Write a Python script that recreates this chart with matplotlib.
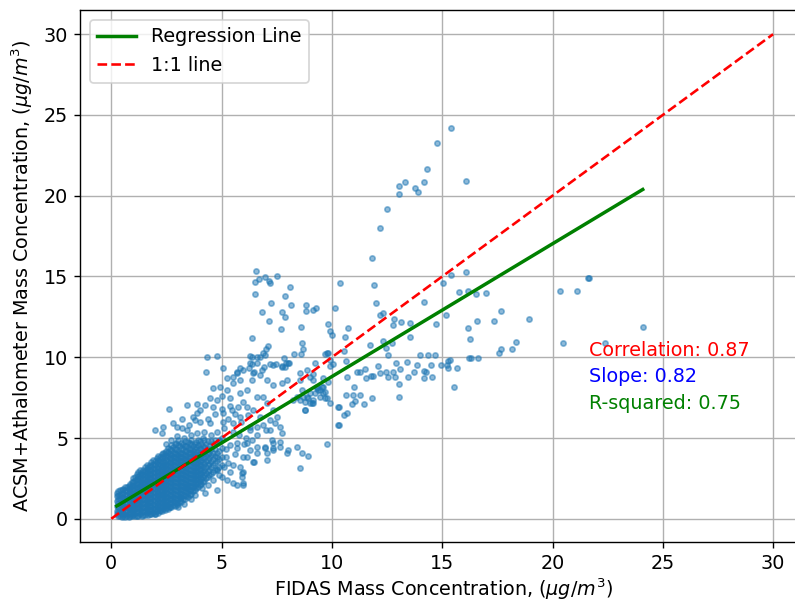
import matplotlib
matplotlib.use("Agg")
import matplotlib.pyplot as plt
import numpy as np

plt.rcParams['font.family'] = ['DejaVu Sans']
plt.rcParams['font.size'] = 11

# ---- data ----
# dense core of the cloud: (FIDAS x, list of ACSM+Aeth y values)
core_columns = [
    (0.25, [0.3, 0.5, 0.8, 1.1, 1.4, 1.6]),
    (0.40, [0.2, 0.4, 0.6, 0.9, 1.2, 1.5, 1.75]),
    (0.55, [0.15, 0.35, 0.6, 0.85, 1.1, 1.35, 1.6, 1.85]),
    (0.70, [0.2, 0.45, 0.7, 0.95, 1.2, 1.45, 1.7, 1.95]),
    (0.85, [0.2, 0.4, 0.65, 0.9, 1.15, 1.4, 1.65, 1.9, 2.15]),
    (1.00, [0.25, 0.5, 0.75, 1.0, 1.25, 1.5, 1.75, 2.0, 2.3, 2.5]),
    (1.15, [0.2, 0.45, 0.7, 0.95, 1.2, 1.45, 1.7, 1.95, 2.2, 2.45, 2.75]),
    (1.30, [0.3, 0.55, 0.8, 1.05, 1.3, 1.55, 1.8, 2.05, 2.3, 2.55, 2.8, 3.0]),
    (1.45, [0.25, 0.5, 0.75, 1.0, 1.25, 1.5, 1.75, 2.0, 2.25, 2.5, 2.75, 3.05]),
    (1.60, [0.35, 0.6, 0.85, 1.1, 1.35, 1.6, 1.85, 2.1, 2.35, 2.6, 2.85, 3.1, 3.3]),
    (1.75, [0.3, 0.55, 0.8, 1.05, 1.3, 1.55, 1.8, 2.05, 2.3, 2.55, 2.8, 3.05, 3.35]),
    (1.90, [0.4, 0.65, 0.9, 1.15, 1.4, 1.65, 1.9, 2.15, 2.4, 2.65, 2.9, 3.15, 3.4, 3.65]),
    (2.05, [0.45, 0.7, 0.95, 1.2, 1.45, 1.7, 1.95, 2.2, 2.45, 2.7, 2.95, 3.2, 3.5, 3.75]),
    (2.20, [0.5, 0.8, 1.05, 1.3, 1.55, 1.8, 2.05, 2.3, 2.55, 2.8, 3.05, 3.3, 3.55, 3.85]),
    (2.35, [0.6, 0.85, 1.1, 1.35, 1.6, 1.85, 2.1, 2.35, 2.6, 2.85, 3.1, 3.35, 3.6, 3.9, 4.1]),
    (2.50, [0.65, 0.9, 1.15, 1.4, 1.65, 1.9, 2.15, 2.4, 2.65, 2.9, 3.15, 3.4, 3.65, 3.95, 4.2]),
    (2.65, [0.75, 1.0, 1.25, 1.5, 1.75, 2.0, 2.25, 2.5, 2.75, 3.0, 3.25, 3.5, 3.75, 4.0, 4.3]),
    (2.80, [0.85, 1.1, 1.35, 1.6, 1.85, 2.1, 2.35, 2.6, 2.85, 3.1, 3.35, 3.6, 3.85, 4.1, 4.45]),
    (2.95, [1.0, 1.25, 1.5, 1.75, 2.0, 2.25, 2.5, 2.75, 3.0, 3.25, 3.5, 3.75, 4.0, 4.3, 4.7]),
    (3.10, [1.1, 1.35, 1.6, 1.85, 2.1, 2.35, 2.6, 2.85, 3.1, 3.35, 3.6, 3.85, 4.1, 4.5]),
    (3.25, [1.2, 1.5, 1.75, 2.0, 2.25, 2.5, 2.75, 3.0, 3.25, 3.5, 3.75, 4.0, 4.3, 4.6]),
    (3.40, [1.4, 1.65, 1.9, 2.15, 2.4, 2.65, 2.9, 3.15, 3.4, 3.65, 3.9, 4.2, 4.5]),
    (3.55, [1.5, 1.8, 2.05, 2.3, 2.55, 2.8, 3.05, 3.3, 3.55, 3.8, 4.05, 4.35, 4.7]),
    (3.70, [1.7, 1.95, 2.2, 2.45, 2.7, 2.95, 3.2, 3.45, 3.7, 3.95, 4.2, 4.5]),
    (3.85, [1.9, 2.15, 2.4, 2.65, 2.9, 3.15, 3.4, 3.65, 3.9, 4.15, 4.45, 4.75]),
    (4.00, [2.1, 2.35, 2.6, 2.85, 3.1, 3.35, 3.6, 3.85, 4.1, 4.4, 4.8]),
    (4.15, [2.3, 2.6, 2.9, 3.2, 3.5, 3.8, 4.1, 4.5, 5.0]),
    (4.30, [2.5, 2.85, 3.2, 3.55, 3.9, 4.25, 4.65]),
    (4.45, [2.7, 3.05, 3.4, 3.75, 4.1, 4.5]),
    (4.60, [2.9, 3.3, 3.7, 4.1, 4.6]),
    (4.80, [3.1, 3.6, 4.1, 4.7]),
    (5.00, [3.3, 3.8, 4.4, 5.0]),
]

# second, interleaved set of core points
core_columns_b = [
    (0.32, [0.2, 0.42, 0.65, 0.95, 1.25, 1.5, 1.7]),
    (0.48, [0.12, 0.3, 0.52, 0.75, 1.0, 1.28, 1.55, 1.8]),
    (0.62, [0.1, 0.28, 0.5, 0.75, 1.0, 1.25, 1.5, 1.75, 1.95]),
    (0.78, [0.12, 0.32, 0.58, 0.82, 1.08, 1.32, 1.58, 1.82, 2.05]),
    (0.92, [0.15, 0.35, 0.6, 0.85, 1.1, 1.35, 1.6, 1.85, 2.1, 2.3]),
    (1.08, [0.15, 0.38, 0.62, 0.88, 1.12, 1.38, 1.62, 1.88, 2.12, 2.38, 2.6]),
    (1.22, [0.18, 0.4, 0.65, 0.9, 1.15, 1.4, 1.65, 1.9, 2.15, 2.4, 2.65, 2.9]),
    (1.38, [0.2, 0.42, 0.68, 0.92, 1.18, 1.42, 1.68, 1.92, 2.18, 2.42, 2.68, 2.92]),
    (1.52, [0.22, 0.45, 0.7, 0.95, 1.2, 1.45, 1.7, 1.95, 2.2, 2.45, 2.7, 2.95, 3.2]),
    (1.68, [0.25, 0.48, 0.72, 0.98, 1.22, 1.48, 1.72, 1.98, 2.22, 2.48, 2.72, 2.98, 3.22]),
    (1.82, [0.28, 0.52, 0.78, 1.02, 1.28, 1.52, 1.78, 2.02, 2.28, 2.52, 2.78, 3.02, 3.28, 3.5]),
    (1.98, [0.32, 0.58, 0.82, 1.08, 1.32, 1.58, 1.82, 2.08, 2.32, 2.58, 2.82, 3.08, 3.32, 3.6]),
    (2.12, [0.38, 0.62, 0.88, 1.12, 1.38, 1.62, 1.88, 2.12, 2.38, 2.62, 2.88, 3.12, 3.38, 3.65, 3.9]),
    (2.28, [0.45, 0.7, 0.95, 1.2, 1.45, 1.7, 1.95, 2.2, 2.45, 2.7, 2.95, 3.2, 3.45, 3.75, 4.0]),
    (2.42, [0.52, 0.78, 1.02, 1.28, 1.52, 1.78, 2.02, 2.28, 2.52, 2.78, 3.02, 3.28, 3.52, 3.8, 4.1]),
    (2.58, [0.6, 0.85, 1.1, 1.35, 1.6, 1.85, 2.1, 2.35, 2.6, 2.85, 3.1, 3.35, 3.6, 3.88, 4.15, 4.4]),
    (2.72, [0.7, 0.95, 1.2, 1.45, 1.7, 1.95, 2.2, 2.45, 2.7, 2.95, 3.2, 3.45, 3.7, 3.95, 4.25, 4.55]),
    (2.88, [0.8, 1.05, 1.3, 1.55, 1.8, 2.05, 2.3, 2.55, 2.8, 3.05, 3.3, 3.55, 3.8, 4.05, 4.35, 4.65]),
    (3.02, [0.95, 1.2, 1.45, 1.7, 1.95, 2.2, 2.45, 2.7, 2.95, 3.2, 3.45, 3.7, 3.95, 4.2, 4.55, 4.85]),
    (3.18, [1.05, 1.3, 1.55, 1.8, 2.05, 2.3, 2.55, 2.8, 3.05, 3.3, 3.55, 3.8, 4.05, 4.35, 4.7]),
    (3.32, [1.2, 1.45, 1.7, 1.95, 2.2, 2.45, 2.7, 2.95, 3.2, 3.45, 3.7, 3.95, 4.2, 4.5, 4.8]),
    (3.48, [1.35, 1.6, 1.85, 2.1, 2.35, 2.6, 2.85, 3.1, 3.35, 3.6, 3.85, 4.1, 4.4, 4.75]),
    (3.62, [1.55, 1.8, 2.05, 2.3, 2.55, 2.8, 3.05, 3.3, 3.55, 3.8, 4.05, 4.3, 4.6, 4.9]),
    (3.78, [1.75, 2.0, 2.25, 2.5, 2.75, 3.0, 3.25, 3.5, 3.75, 4.0, 4.3, 4.6]),
    (3.92, [1.95, 2.2, 2.45, 2.7, 2.95, 3.2, 3.45, 3.7, 3.95, 4.25, 4.55, 4.9]),
    (4.08, [2.15, 2.45, 2.75, 3.05, 3.35, 3.65, 3.95, 4.3, 4.65]),
    (4.22, [2.35, 2.7, 3.05, 3.4, 3.75, 4.1, 4.45, 4.85]),
    (4.38, [2.6, 2.95, 3.3, 3.65, 4.0, 4.35, 4.8]),
    (4.52, [2.8, 3.2, 3.55, 3.95, 4.35, 4.8]),
    (4.70, [3.0, 3.45, 3.9, 4.35, 4.9]),
    (4.90, [3.2, 3.7, 4.2, 4.8]),
]

# looser points around the core (x, y)
fringe_points = [
    (2.5, 4.6), (2.7, 4.9), (3.0, 5.1), (3.3, 5.0), (3.6, 5.2), (3.9, 5.3), (4.2, 5.4),
    (4.5, 5.2), (4.8, 5.4), (5.1, 5.6), (3.2, 5.6), (3.5, 5.8), (4.0, 6.0), (4.4, 6.2),
    (4.7, 6.5), (5.0, 6.8), (5.3, 6.2), (5.6, 6.5), (5.9, 6.0), (6.2, 6.4), (5.5, 5.4),
    (5.8, 5.2), (6.1, 5.0), (4.9, 4.9), (5.2, 4.3), (5.6, 4.0), (6.3, 5.5), (6.6, 5.2),
    (7.0, 5.5), (7.4, 5.9), (5.4, 7.0), (5.0, 7.6), (4.6, 6.9), (3.7, 6.3), (3.2, 6.2),
    (2.8, 5.9), (5.2, 3.8), (5.4, 2.9), (5.1, 3.2), (4.9, 2.7), (4.6, 2.4), (4.4, 2.1),
    (4.1, 1.9), (3.8, 1.5), (3.6, 1.2), (3.3, 0.9), (5.7, 4.4), (6.0, 4.6), (6.4, 4.9),
]

# individually visible points (x, y)
scattered_points = [
    (15.41, 24.17), (14.75, 23.26), (14.32, 21.63), (16.06, 20.91), (14.18, 20.84),
    (13.33, 20.85), (13.03, 20.6), (13.03, 20.12), (13.78, 20.48), (13.92, 20.25),
    (12.48, 19.16), (12.18, 18.0), (11.83, 16.14), (11.92, 14.49), (12.0, 13.34),
    (14.17, 13.4), (10.37, 14.61), (10.16, 13.03),
    (6.56, 15.34), (6.51, 14.66), (6.71, 14.84), (6.95, 14.95), (7.16, 14.72), (7.19, 14.62),
    (7.5, 15.05), (8.11, 14.37), (6.51, 13.9), (7.89, 13.77), (7.24, 13.34), (8.16, 13.23),
    (8.83, 13.23), (8.81, 12.86), (9.16, 12.92), (9.28, 13.05), (6.83, 12.8), (7.75, 12.8),
    (7.89, 12.51), (7.13, 12.26), (7.71, 11.73), (8.58, 11.89), (9.84, 12.04), (9.91, 11.6),
    (10.74, 11.79), (12.18, 12.63), (12.33, 12.76), (12.83, 12.38), (12.76, 12.01),
    (13.15, 12.2), (13.55, 12.1), (6.38, 11.19), (10.59, 11.25), (13.54, 11.25),
    (15.41, 15.11), (16.06, 15.28), (15.02, 14.61), (15.76, 14.02), (16.18, 14.12),
    (16.53, 13.89), (16.97, 13.96), (15.16, 12.61), (14.7, 12.07), (17.67, 12.86),
    (17.36, 12.26), (16.56, 12.26), (18.95, 12.38), (16.17, 11.83), (16.26, 11.11),
    (18.33, 10.92), (18.15, 10.51), (17.67, 10.51), (17.59, 10.28), (16.2, 9.97),
    (16.3, 9.97), (16.61, 9.93), (15.55, 8.15), (15.28, 9.78), (15.35, 9.83), (15.2, 9.52),
    (14.95, 9.52), (15.28, 9.31), (15.69, 9.31),
    (12.33, 11.02), (12.72, 10.88), (12.47, 10.55), (12.54, 10.12), (11.74, 10.75),
    (10.02, 11.36), (8.63, 10.86), (8.7, 10.51), (9.7, 10.2), (9.91, 9.47), (10.64, 9.78),
    (10.55, 10.4),
    (11.16, 9.06), (11.27, 9.06), (11.52, 9.29), (11.55, 8.69), (11.76, 8.86), (11.86, 8.86),
    (12.08, 9.47), (12.17, 9.0), (12.44, 9.1), (12.53, 8.77), (12.76, 9.1), (12.89, 9.62),
    (12.86, 8.76), (13.09, 9.25), (13.04, 8.34), (13.39, 9.72), (13.44, 8.76), (13.74, 9.06),
    (13.84, 9.52), (13.99, 10.12), (14.17, 9.16), (14.25, 9.06), (14.17, 8.69), (14.36, 10.12),
    (14.49, 9.52), (14.52, 8.76), (14.66, 10.12), (10.67, 8.79), (11.0, 8.14), (10.62, 7.64),
    (10.94, 7.64), (11.26, 7.64), (11.06, 7.31), (10.9, 7.1), (11.47, 7.12), (11.8, 7.49),
    (13.06, 7.52), (10.56, 6.4), (10.67, 6.56), (10.32, 5.8), (10.32, 6.9),
    (8.57, 8.59), (8.79, 7.26), (8.79, 6.73), (9.08, 7.18), (9.23, 7.76), (9.38, 7.97),
    (9.54, 8.17), (9.69, 7.45), (9.91, 7.18), (9.61, 8.69), (9.16, 8.94), (8.63, 7.97),
    (8.93, 7.45), (9.46, 7.55),
    (20.32, 14.08), (21.12, 14.08), (21.6, 14.9), (21.65, 14.9), (20.46, 10.86),
    (22.39, 10.86), (24.09, 11.89),
    (8.59, 10.18), (8.3, 10.18), (7.0, 10.49), (7.09, 10.69), (6.97, 10.14), (6.29, 10.07),
    (6.36, 9.99), (6.59, 9.99), (6.74, 9.99), (4.32, 10.03), (4.78, 10.09), (4.29, 9.06),
    (5.05, 9.33), (7.83, 9.97), (7.9, 9.62), (7.75, 9.46), (8.04, 9.66), (7.86, 9.41),
    (7.47, 9.56), (7.19, 9.56), (6.92, 9.41), (6.85, 9.21), (6.49, 9.1), (6.37, 9.56),
    (6.24, 9.31), (9.76, 10.24), (10.06, 9.58), (9.9, 9.83), (8.56, 9.0), (9.01, 8.79),
    (9.16, 8.59), (9.69, 7.86), (10.29, 6.93), (10.29, 5.8),
    (9.79, 4.6), (9.16, 7.35), (8.86, 7.55), (8.56, 7.35), (8.4, 7.55), (8.25, 7.35),
    (9.31, 8.17), (9.58, 8.17), (9.84, 8.48), (9.16, 7.14), (9.01, 7.14),
    (7.35, 9.52), (7.72, 9.41), (8.03, 9.62), (6.89, 10.24), (6.59, 9.62), (6.29, 9.62),
    (6.44, 9.0), (6.74, 8.9), (7.04, 8.59), (7.35, 8.28), (7.72, 8.38), (7.95, 8.59),
    (6.36, 8.59), (5.98, 9.21), (5.68, 9.0), (5.83, 8.59), (5.53, 8.38), (5.23, 7.97),
    (5.38, 7.45), (5.83, 7.76), (6.14, 7.97), (6.59, 7.55), (6.89, 7.55), (7.04, 7.14),
    (7.34, 6.73), (7.5, 6.32), (7.19, 6.11), (6.74, 6.32), (6.44, 6.73), (6.14, 6.94),
    (5.98, 7.24), (5.76, 6.94), (5.46, 6.73), (5.08, 6.53), (4.78, 7.35), (4.47, 7.45),
    (4.25, 7.04), (4.02, 6.73), (3.87, 6.53), (3.42, 7.04), (2.63, 6.77), (1.98, 5.49),
    (2.36, 5.7), (2.96, 5.7), (3.42, 5.49), (3.79, 6.11), (4.47, 5.91), (5.08, 6.01),
    (5.53, 5.91), (5.83, 6.32), (6.29, 5.7), (6.59, 5.7), (6.89, 5.8), (7.19, 5.49),
    (7.65, 5.7), (7.72, 5.29), (7.34, 4.67), (7.65, 4.46), (8.02, 4.25), (8.4, 4.46),
    (8.63, 4.05), (8.93, 3.9), (8.55, 3.12), (8.7, 7.55), (9.01, 7.76), (9.31, 8.07),
    (9.61, 7.76), (9.76, 7.45), (8.78, 6.73), (9.46, 7.97), (9.84, 10.24), (9.23, 9.62),
    (8.86, 9.21), (4.78, 3.02), (5.0, 2.6), (5.23, 2.4), (5.53, 3.33), (5.83, 3.22),
    (5.91, 2.81), (5.98, 2.19), (5.53, 2.19), (5.3, 3.43), (6.14, 3.84), (6.44, 3.53),
    (6.59, 4.05), (7.04, 4.05), (7.34, 4.36), (6.97, 4.46), (6.59, 4.46), (6.29, 4.25),
    (6.14, 4.67), (5.68, 4.67), (5.38, 4.56), (4.78, 1.78), (4.25, 1.61), (3.42, 1.98),
    (3.11, 1.36), (2.96, 0.85), (2.21, 0.54), (1.9, 0.33), (4.78, 3.84),
    (7.95, 4.05), (7.34, 4.25), (7.65, 4.77), (7.27, 4.87), (6.97, 4.36), (7.04, 3.63),
    (6.47, 3.53), (5.98, 3.84), (5.96, 2.91), (5.94, 2.6), (5.68, 2.09), (5.98, 2.09),
    (3.04, 0.74), (2.63, 0.74), (1.98, 0.29), (2.28, 5.29), (3.87, 7.08), (4.6, 8.07),
    (4.93, 8.17), (5.23, 8.69), (5.53, 8.79), (5.68, 9.1), (5.83, 9.35),
]

reg_slope = 0.822
reg_intercept = 0.585
one_to_one = [0, 30]
stats_labels = ["Correlation: 0.87", "Slope: 0.82", "R-squared: 0.75"]
stats_colors = ["red", "blue", "green"]

# ---- assemble ----
fidas, acsm = [], []
for cols in (core_columns, core_columns_b):
    fidas += [x for x, ys in cols for _ in ys]
    acsm += [y for _, ys in cols for y in ys]
for pts in (fringe_points, scattered_points):
    fidas += [p[0] for p in pts]
    acsm += [p[1] for p in pts]
fidas = np.array(fidas)
acsm = np.array(acsm)

fig = plt.figure(figsize=(795 / 125, 602 / 125), dpi=125)
ax = fig.add_axes([80.3 / 795, 60.3 / 602, 727 / 795, 531.4 / 602])

ax.scatter(fidas, acsm, s=9, color='tab:blue', alpha=0.5, zorder=2)

reg_x = np.array([fidas.min(), fidas.max()])
ax.plot(reg_x, reg_slope * reg_x + reg_intercept, color='green', lw=2,
        label='Regression Line', zorder=3)
ax.plot(one_to_one, one_to_one, 'r--', lw=1.5, label='1:1 line', zorder=3)

for i, (txt, col) in enumerate(zip(stats_labels, stats_colors)):
    ax.text(0.7, 0.35 - 0.05 * i, txt, color=col, transform=ax.transAxes)

ax.set_xlim(-1.405, 31.55)
ax.set_ylim(-1.42, 31.48)
ax.set_xticks([0, 5, 10, 15, 20, 25, 30])
ax.set_yticks([0, 5, 10, 15, 20, 25, 30])
ax.grid(True)
ax.set_axisbelow(True)
ax.set_xlabel(r'FIDAS Mass Concentration, ($\mu g/m^3$)', labelpad=2)
ax.set_ylabel(r'ACSM+Athalometer Mass Concentration, ($\mu g/m^3$)', labelpad=5)
ax.legend(loc='upper left')

fig.savefig('out.png', dpi=125)
